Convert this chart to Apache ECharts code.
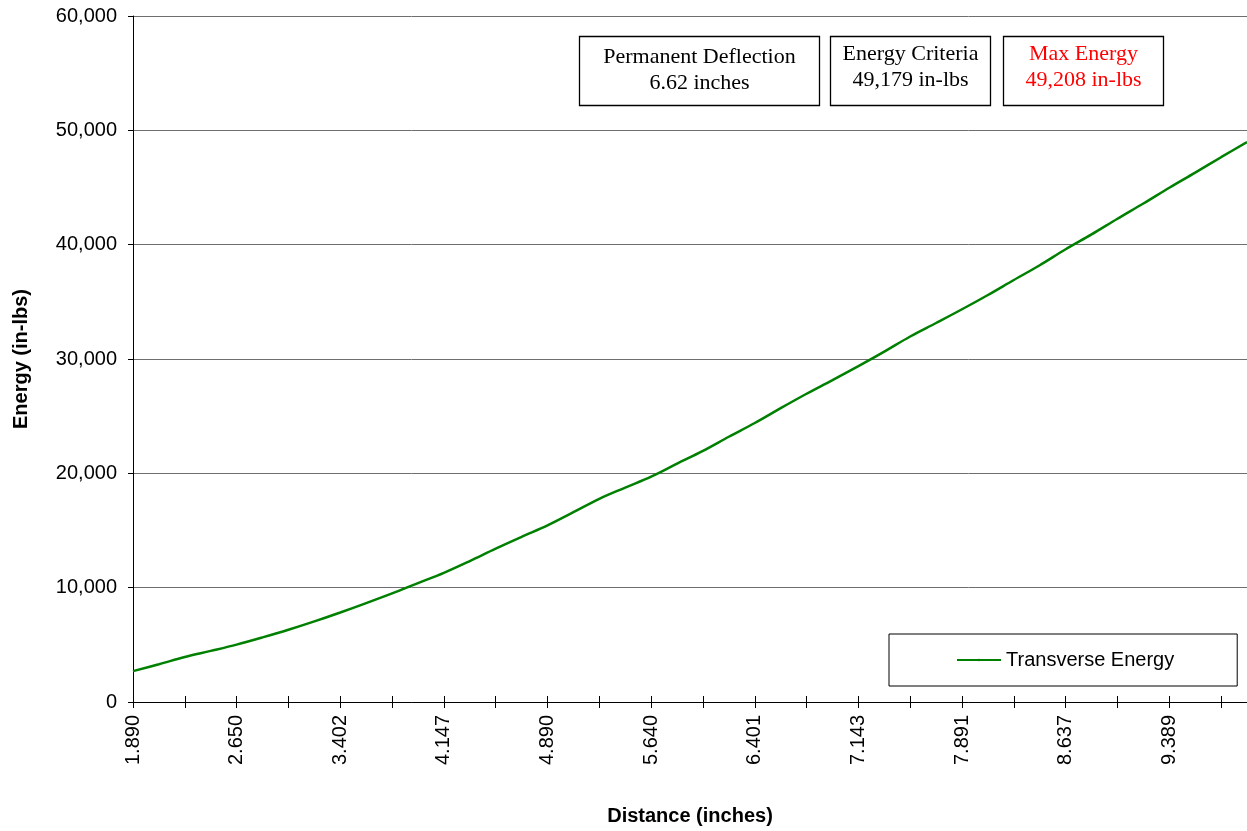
<!DOCTYPE html>
<html><head><meta charset="utf-8">
<script src="https://cdn.jsdelivr.net/npm/echarts@6/dist/echarts.min.js"></script>
<style>html,body{margin:0;padding:0;background:#fff}#c{width:1247px;height:831px}</style>
</head><body><div id="c"></div>
<script>
// Distance samples (inches) – category axis, one label shown every 4th sample
const distances = ['1.890','2.080','2.270','2.460','2.650','2.838','3.026','3.214','3.402','3.588','3.775','3.961',
  '4.147','4.333','4.519','4.704','4.890','5.078','5.265','5.453','5.640','5.830','6.020','6.211',
  '6.401','6.586','6.772','6.957','7.143','7.330','7.517','7.704','7.891','8.078','8.264','8.451',
  '8.637','8.825','9.013','9.201','9.389','9.577','9.765','9.953'];
// Transverse energy (in-lbs)
const energy = [2700,3300,3940,4470,5020,5650,6320,7050,7830,8650,9500,10400,
  11300,12330,13420,14450,15450,16600,17770,18750,19710,20850,21970,23200,
  24400,25700,26960,28150,29380,30650,31970,33150,34350,35600,36910,38200,
  39600,40900,42270,43600,44980,46300,47650,48980];
const seriesName = 'Transverse Energy';
const yMin = 0, yMax = 60000, yStep = 10000;
const boxTexts = [
  {lines: ['Permanent Deflection', '6.62 inches'], color: '#000000'},
  {lines: ['Energy Criteria', '49,179 in-lbs'], color: '#000000'},
  {lines: ['Max Energy', '49,208 in-lbs'], color: '#FF0000'}
];
const xAxisTitle = 'Distance (inches)';
const yAxisTitle = 'Energy (in-lbs)';

const boxGeom = [
  {x: 579.5, y: 36.5, w: 240, h: 69, cy: 70},
  {x: 830.5, y: 36.5, w: 160, h: 69, cy: 67},
  {x: 1003.5, y: 36.5, w: 160, h: 69, cy: 67}
];
const graphics = [];
boxTexts.forEach((b, i) => {
  const g = boxGeom[i];
  graphics.push({type: 'rect', shape: {x: g.x, y: g.y, width: g.w, height: g.h},
    style: {fill: '#fff', stroke: '#000', lineWidth: 1.3}, z: 100});
  graphics.push({type: 'text', x: g.x + g.w / 2, y: g.cy, z: 101,
    style: {text: b.lines.join('\n'), fill: b.color, font: '22px "Liberation Serif", "Times New Roman", serif',
      lineHeight: 26, align: 'center', verticalAlign: 'middle'}});
});

const fontSans = 'Liberation Sans, Arial, sans-serif';
const chart = echarts.init(document.getElementById('c'), null, {renderer: 'canvas'});
chart.setOption({
  animation: false,
  backgroundColor: '#fff',
  grid: {left: 133, right: 0, top: 16, bottom: 125, containLabel: false},
  legend: {
    data: [seriesName], left: 889, top: 634,
    padding: [16, 63, 16, 67], borderColor: '#000', borderWidth: 1, backgroundColor: '#fff',
    itemWidth: 44, itemHeight: 3, itemGap: 4,
    textStyle: {fontFamily: fontSans, fontSize: 20, color: '#000'}
  },
  xAxis: [{
    type: 'category', data: distances, boundaryGap: false, position: 'bottom',
    name: xAxisTitle, nameLocation: 'middle', nameGap: 104,
    nameTextStyle: {fontFamily: fontSans, fontSize: 20, fontWeight: 'bold', color: '#000'},
    axisLine: {lineStyle: {color: '#000', width: 1}},
    axisTick: {show: true, interval: 1, length: 6, lineStyle: {color: '#000'}},
    axisLabel: {interval: 3, rotate: 90, margin: 13, color: '#000', fontFamily: fontSans, fontSize: 20},
    splitLine: {show: false}
  }, {
    type: 'category', data: distances, boundaryGap: false, position: 'bottom',
    axisLine: {show: false},
    axisTick: {show: true, inside: true, interval: 1, length: 6, lineStyle: {color: '#000'}},
    axisLabel: {show: false},
    splitLine: {show: false}
  }],
  yAxis: {
    type: 'value', min: yMin, max: yMax, interval: yStep,
    name: yAxisTitle, nameLocation: 'middle', nameGap: 102, nameRotate: 90,
    nameTextStyle: {fontFamily: fontSans, fontSize: 20, fontWeight: 'bold', color: '#000'},
    axisLine: {show: true, lineStyle: {color: '#000', width: 1}},
    axisTick: {show: true, length: 5, lineStyle: {color: '#000'}},
    axisLabel: {margin: 16, color: '#000', fontFamily: fontSans, fontSize: 20,
      formatter: v => v.toLocaleString('en-US')},
    splitLine: {show: true, lineStyle: {color: '#6e6e6e', width: 1}}
  },
  series: [{
    name: seriesName, type: 'line', data: energy, symbol: 'none', showSymbol: false, smooth: 0.35,
    xAxisIndex: 0, lineStyle: {color: '#008000', width: 2.5}, itemStyle: {color: '#008000'}
  }],
  graphic: graphics
});
</script></body></html>
